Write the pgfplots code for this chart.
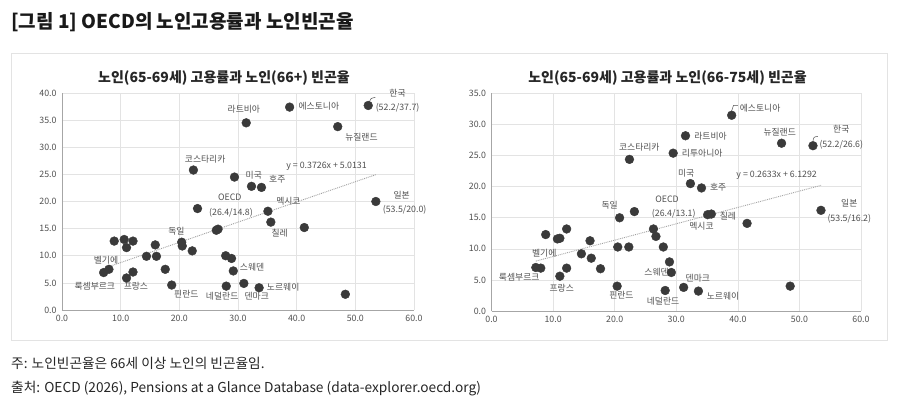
\documentclass[border=0pt]{standalone}
\usepackage{pgfplots}
\pgfplotsset{compat=1.18}
\usepackage{fontspec}
\setmainfont{Noto Sans CJK KR}
\definecolor{dot}{HTML}{3A3A3A}
\definecolor{lab}{HTML}{505050}
\definecolor{gridc}{HTML}{E3E3E3}
\definecolor{axc}{HTML}{A6A6A6}
\definecolor{trend}{HTML}{A0A0A0}
\pgfplotsset{
  sc/.style={
    scale only axis, clip=false,
    anchor=south west,
    xmin=0, xmax=60, xtick={0,10,...,60},
    axis x line*=bottom, axis y line*=left,
    axis line style={axc, line width=0.8pt},
    grid=major, major grid style={gridc, line width=0.6pt},
    major tick length=0pt,
    tick label style={font=\fontsize{8.8}{9}\selectfont, text=lab},
    /pgf/number format/assume math mode=true,
    xticklabel style={/pgf/number format/.cd, fixed, fixed zerofill, precision=1},
    yticklabel style={/pgf/number format/.cd, fixed, fixed zerofill, precision=1},
    xticklabel shift=2pt, yticklabel shift=2pt,
  },
}
\tikzset{lbl/.style={font=\fontsize{8.8}{9}\selectfont, text=lab, inner sep=0pt}}
\begin{document}
\begin{tikzpicture}[x=1pt,y=1pt]
\path[use as bounding box] (0,0) rectangle (899,414);
\fill[white] (0,0) rectangle (899,414);
\draw[gridc, line width=0.8pt] (11,74) rectangle (887,361);
\node[anchor=west, inner sep=0pt, font=\fontsize{19}{20}\selectfont\bfseries, text=black!90] at (11,392) {[그림 1] OECD의 노인고용률과 노인빈곤율};
\node[anchor=west, inner sep=0pt, font=\fontsize{13.7}{15}\selectfont, text=black!85] at (11,51) {주: 노인빈곤율은 66세 이상 노인의 빈곤율임.};
\node[anchor=west, inner sep=0pt, font=\fontsize{13.7}{15}\selectfont, text=black!85] at (11,25) {출처: OECD (2026), Pensions at a Glance Database (data-explorer.oecd.org)};
\node[inner sep=0pt, font=\fontsize{14}{15}\selectfont\bfseries, text=black!85] at (224,336) {노인(65-69세) 고용률과 노인(66+) 빈곤율};
\node[inner sep=0pt, font=\fontsize{14}{15}\selectfont\bfseries, text=black!85] at (667.5,336) {노인(65-69세) 고용률과 노인(66-75세) 빈곤율};

% ---------- left panel ----------
\begin{axis}[sc, at={(62pt,104pt)}, width=352pt, height=217pt,
  ymin=0, ymax=40, ytick={0,5,...,40}]
\addplot[densely dotted, trend, line width=0.9pt] coordinates {(7.1,7.66) (53.5,24.95)};
\addplot[only marks, mark=*, mark size=4.4pt, mark options={fill=dot, draw=dot}] coordinates {
(8.9,12.7) (10.6,13.0) (11.0,11.5) (12.1,12.7) (7.1,6.9) (8.0,7.5) (11.0,5.9) (12.1,7.0)
(14.4,9.9) (15.9,12.0) (16.1,9.9) (17.6,7.5) (18.7,4.6) (20.4,12.5) (20.5,11.8) (22.2,10.9)
(23.1,18.7) (26.3,14.7) (26.6,14.9) (27.9,10.0) (28.9,9.5) (28.0,4.4) (29.2,7.2) (29.4,24.5)
(32.3,22.8) (34.0,22.6) (35.1,18.2) (35.6,16.2) (41.3,15.2) (53.5,20.0) (31.0,4.9) (33.6,4.1)
(48.3,2.9) (31.4,34.5) (38.8,37.4) (52.2,37.7) (47.0,33.8) (22.4,25.8)
};
\draw[lab, line width=0.5pt] (axis cs:52.4,38.4) .. controls (axis cs:52.6,39.0) .. (axis cs:53.4,39.2);
\node[lbl] at (axis cs:57.2,40.05) {한국};
\node[lbl] at (axis cs:57.2,37.2) {(52.2/37.7)};
\node[lbl, anchor=west] at (axis cs:40.3,37.6) {에스토니아};
\node[lbl] at (axis cs:31.0,37.05) {라트비아};
\node[lbl] at (axis cs:51.05,31.8) {뉴질랜드};
\node[lbl] at (axis cs:24.4,27.8) {코스타리카};
\node[lbl] at (axis cs:32.7,24.9) {미국};
\node[lbl] at (axis cs:36.7,24.1) {호주};
\node[lbl] at (axis cs:28.6,20.8) {OECD};
\node[lbl] at (axis cs:28.8,17.9) {(26.4/14.8)};
\node[lbl] at (axis cs:38.6,20.1) {멕시코};
\node[lbl] at (axis cs:37.1,14.25) {칠레};
\node[lbl] at (axis cs:57.9,21.2) {일본};
\node[lbl] at (axis cs:58.4,18.4) {(53.5/20.0)};
\node[lbl] at (axis cs:19.5,14.6) {독일};
\node[lbl] at (axis cs:7.5,9.2) {벨기에};
\node[lbl] at (axis cs:5.6,4.3) {룩셈부르크};
\node[lbl] at (axis cs:12.6,4.3) {프랑스};
\node[lbl] at (axis cs:21.2,2.9) {핀란드};
\node[lbl] at (axis cs:27.3,2.6) {네덜란드};
\node[lbl] at (axis cs:33.2,2.6) {덴마크};
\node[lbl] at (axis cs:32.4,7.9) {스웨덴};
\node[lbl] at (axis cs:37.7,4.2) {노르웨이};
\node[lbl] at (axis cs:45.1,26.5) {y = 0.3726x + 5.0131};
\end{axis}

% ---------- right panel ----------
\begin{axis}[sc, at={(491.5pt,103pt)}, width=369.5pt, height=217.5pt,
  ymin=0, ymax=35, ytick={0,5,...,35}]
\addplot[densely dotted, trend, line width=0.9pt] coordinates {(7.2,8.03) (53.5,20.22)};
\addplot[only marks, mark=*, mark size=4.4pt, mark options={fill=dot, draw=dot}] coordinates {
(8.8,12.3) (10.7,11.6) (11.1,11.7) (12.2,13.2) (7.2,7.0) (8.0,6.9) (11.1,5.6) (12.2,6.9)
(14.6,9.2) (16.0,11.3) (16.2,8.5) (17.7,6.8) (20.4,4.0) (20.5,10.3) (20.8,15.0) (22.3,10.3)
(23.2,16.0) (26.3,13.2) (26.7,12.0) (27.9,10.3) (28.9,7.9) (29.2,6.2) (28.2,3.3) (31.2,3.8)
(33.6,3.2) (48.5,4.0) (35.1,15.5) (35.7,15.6) (41.5,14.1) (53.5,16.2) (39.0,31.5) (31.5,28.2)
(29.5,25.4) (47.1,27.0) (52.2,26.6) (32.3,20.5) (34.1,19.8) (22.4,24.4)
};
\draw[lab, line width=0.5pt] (axis cs:39.0,32.2) -- (axis cs:39.3,33.1) -- (axis cs:40.0,33.1);
\draw[lab, line width=0.5pt] (axis cs:52.2,27.3) .. controls (axis cs:52.3,28.0) .. (axis cs:53.0,28.1);
\node[lbl, anchor=west] at (axis cs:40.3,32.7) {에스토니아};
\node[lbl, anchor=west] at (axis cs:32.9,28.1) {라트비아};
\node[lbl, anchor=west] at (axis cs:30.9,25.35) {리투아니아};
\node[lbl] at (axis cs:46.8,28.7) {뉴질랜드};
\node[lbl] at (axis cs:56.8,29.3) {한국};
\node[lbl] at (axis cs:56.8,26.7) {(52.2/26.6)};
\node[lbl] at (axis cs:24.0,26.3) {코스타리카};
\node[lbl] at (axis cs:31.6,22.2) {미국};
\node[lbl] at (axis cs:36.8,19.9) {호주};
\node[lbl] at (axis cs:28.5,18.0) {OECD};
\node[lbl] at (axis cs:29.6,15.6) {(26.4/13.1)};
\node[lbl] at (axis cs:19.2,17.0) {독일};
\node[lbl] at (axis cs:34.1,13.7) {멕시코};
\node[lbl] at (axis cs:38.4,15.3) {칠레};
\node[lbl] at (axis cs:58.1,17.3) {일본};
\node[lbl] at (axis cs:58.1,14.9) {(53.5/16.2)};
\node[lbl] at (axis cs:8.56,9.3) {벨기에};
\node[lbl] at (axis cs:4.5,5.4) {룩셈부르크};
\node[lbl] at (axis cs:11.4,3.65) {프랑스};
\node[lbl] at (axis cs:21.1,2.6) {핀란드};
\node[lbl] at (axis cs:27.85,1.6) {네덜란드};
\node[lbl] at (axis cs:26.8,6.2) {스웨덴};
\node[lbl] at (axis cs:33.5,5.2) {덴마크};
\node[lbl] at (axis cs:37.6,2.4) {노르웨이};
\node[lbl] at (axis cs:46.3,21.9) {y = 0.2633x + 6.1292};
\end{axis}
\end{tikzpicture}
\end{document}
